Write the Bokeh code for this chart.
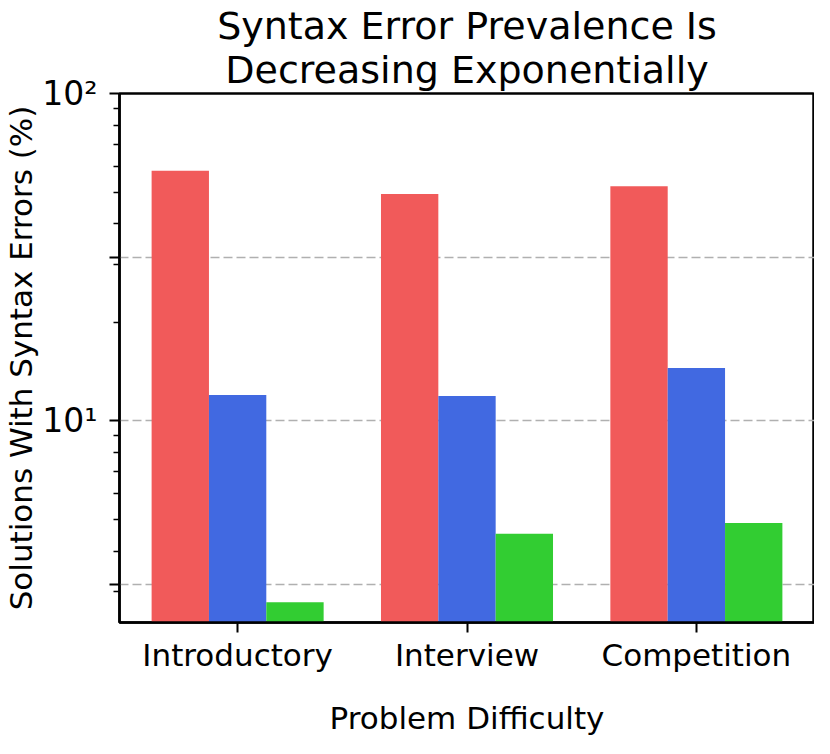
from bokeh.plotting import figure
from bokeh.models import FactorRange, Range1d, FixedTicker, CustomJSTickFormatter, ColumnDataSource
from bokeh.transform import dodge
from bokeh.embed import file_html
from bokeh.resources import INLINE

# ---- data ----
categories = ["Introductory", "Interview", "Competition"]
series_names = ["GPT-2 0.1B", "GPT-2 1.5B", "GPT-Neo 2.7B"]
red_values = [58.1, 49.3, 52.1]
blue_values = [12.0, 11.9, 14.5]
green_values = [2.79, 4.52, 4.87]
y_major_ticks = [10 ** 0.5, 10, 10 ** 1.5, 100]
y_minor_ticks = [3, 4, 5, 6, 7, 8, 9, 20, 30, 40, 50, 60, 70, 80, 90]
title_lines = ["Syntax Error Prevalence Is", "Decreasing Exponentially"]

colors = ["#f15a5a", "#4169e1", "#32cd32"]
offsets = [-0.25, 0.0, 0.25]
FONT = "DejaVu Sans"

p = figure(
    width=814, height=738,
    x_range=FactorRange(factors=categories, range_padding=0.01),
    y_range=Range1d(2.42, 100),
    y_axis_type="log",
    output_backend="svg", toolbar_location=None,
    min_border_left=116, min_border_right=0, min_border_bottom=0, min_border_top=0,
)

src = ColumnDataSource(dict(cat=categories, a=red_values, b=blue_values, c=green_values))
for col, off, colr, name in zip(["a", "b", "c"], offsets, colors, series_names):
    p.vbar(x=dodge("cat", off, range=p.x_range), top=col, bottom=1, width=0.25,
           source=src, fill_color=colr, line_color=None, name=name)

# two-line title
p.title.text = "\n".join(title_lines)
p.title.align = "center"
if "text_align" in p.title.properties():
    p.title.text_align = "center"
p.title.text_font = FONT
p.title.text_font_size = "38px"
p.title.text_font_style = "normal"
p.title.text_color = "black"
p.title.text_line_height = 1.0
p.title.standoff = 3

# outline
p.outline_line_color = "black"
p.outline_line_width = 2.5
p.outline_line_alpha = 1.0

# grid
p.xgrid.visible = False
p.ygrid.grid_line_color = "#b0b0b0"
p.ygrid.grid_line_width = 1.6
p.ygrid.grid_line_dash = "9 4"

# y axis
p.yaxis.ticker = FixedTicker(ticks=y_major_ticks, minor_ticks=y_minor_ticks)
p.yaxis.formatter = CustomJSTickFormatter(code="""
if (Math.abs(tick - 10) < 1e-6) return '10\u00b9';
if (Math.abs(tick - 100) < 1e-6) return '10\u00b2';
return '';
""")
p.yaxis.axis_label = "Solutions With Syntax Errors (%)"

for ax in (p.xaxis[0], p.yaxis[0]):
    ax.axis_line_color = "black"
    ax.axis_line_width = 2.5
    ax.major_tick_line_color = "black"
    ax.major_tick_line_width = 2
    ax.major_tick_out = 10
    ax.major_tick_in = 0
    ax.minor_tick_line_color = "black"
    ax.minor_tick_line_width = 1.5
    ax.minor_tick_out = 6
    ax.minor_tick_in = 0
    ax.major_label_text_font = FONT
    ax.major_label_text_color = "black"
    ax.axis_label_text_font = FONT
    ax.axis_label_text_font_style = "normal"
    ax.axis_label_text_color = "black"
    ax.axis_label_text_font_size = "31px"

p.yaxis.major_label_text_font_size = "33px"
p.yaxis.major_label_standoff = 12
p.yaxis.axis_label_standoff = 0
p.xaxis.major_label_text_font_size = "31px"
p.xaxis.major_label_standoff = 4
p.xaxis.axis_label = "Problem Difficulty"
p.xaxis.axis_label_standoff = 24
p.xaxis.group_text_font_size = "0px"

open("out.html", "w").write(file_html(p, INLINE))
